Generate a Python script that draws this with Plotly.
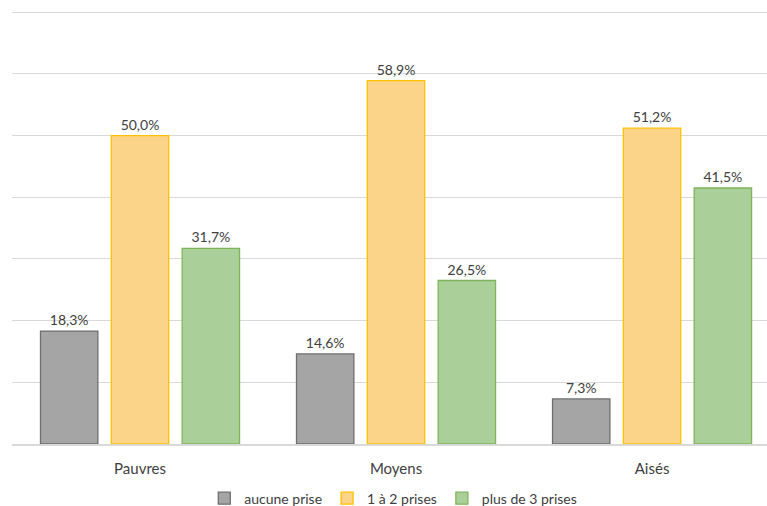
import plotly.graph_objects as go

categories = ["Pauvres", "Moyens", "Aisés"]
series_names = ["aucune prise", "1 à 2 prises", "plus de 3 prises"]
aucune = [18.3, 14.6, 7.3]
un_deux = [50.0, 58.9, 51.2]
plus_trois = [31.7, 26.5, 41.5]

fills = ["#A5A5A5", "#FCD489", "#ABCF98"]
lines = ["#6E6E6E", "#FFC000", "#7DB55A"]

def fmt(v):
    return f"{v:.1f}%".replace(".", ",")

fig = go.Figure()
for name, vals, fc, lc in zip(series_names, [aucune, un_deux, plus_trois], fills, lines):
    fig.add_trace(go.Bar(
        x=categories, y=vals, name=name,
        marker=dict(color=fc, line=dict(color=lc, width=1.3)),
        text=[fmt(v) for v in vals], textposition="outside",
        textfont=dict(size=14, color="#404040", family="Lato"),
        cliponaxis=False,
    ))

fig.update_layout(
    width=767, height=506,
    paper_bgcolor="white", plot_bgcolor="white",
    margin=dict(l=12, r=0, t=6, b=62, autoexpand=False),
    barmode="group", bargap=0.17, bargroupgap=0.19,
    font=dict(family="Lato", size=14, color="#404040"),
    legend=dict(orientation="h", x=0.505, xanchor="center", y=-0.088, yanchor="top",
                font=dict(size=14, color="#404040"), itemwidth=30,
                traceorder="normal"),
    showlegend=True,
)
fig.update_xaxes(range=[-0.5, 2.449], showgrid=False, showline=True,
                 linecolor="#D9D9D9", linewidth=1.5, ticks="", automargin=False,
                 ticklabelstandoff=10,
                 tickfont=dict(size=15, color="#404040"))
fig.update_yaxes(range=[0, 71], tickvals=[10, 20, 30, 40, 50, 60, 70],
                 showgrid=True, gridcolor="#D9D9D9", automargin=False,
                 gridwidth=1, showticklabels=False, zeroline=False, showline=False)

fig.write_html("out.html", config={"displayModeBar": False},
               post_script="document.body.style.margin='0';document.body.style.overflow='hidden';")
